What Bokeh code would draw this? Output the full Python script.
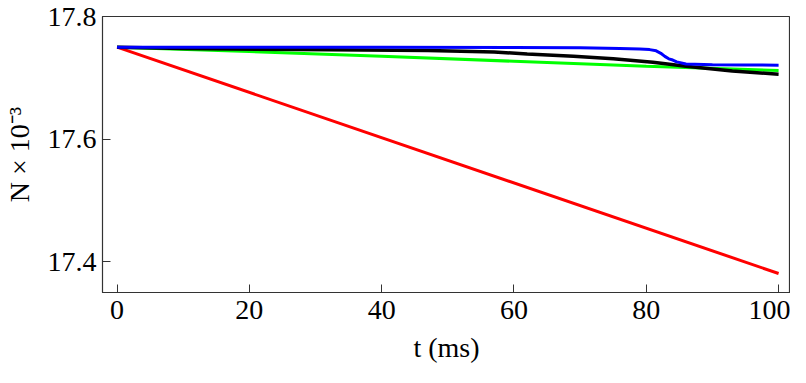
from bokeh.plotting import figure
from bokeh.models import FixedTicker, Range1d
from bokeh.embed import file_html
from bokeh.resources import INLINE

# Data (t in ms, N x 10^-3)
t_red = [0, 100]
n_red = [17.750, 17.381]

t_green = [0, 20, 40, 60, 80, 100]
n_green = [17.750, 17.743, 17.735, 17.727, 17.719, 17.712]

t_black = [0, 10, 27, 47, 57, 62, 69, 75, 81, 86, 93, 100]
n_black = [17.750, 17.748, 17.746, 17.7445, 17.742, 17.739, 17.735, 17.731, 17.7255, 17.719, 17.711, 17.706]

t_blue = [0, 20, 40, 60, 70, 76, 79, 80.5, 81.5, 82.2, 82.8, 83.4, 84.0, 84.6, 86, 90, 95, 100]
n_blue = [17.750, 17.750, 17.7498, 17.7495, 17.749, 17.748, 17.747, 17.746, 17.744, 17.740,
          17.735, 17.731, 17.729, 17.726, 17.7225, 17.7215, 17.721, 17.7205]

x_ticks = [0, 20, 40, 60, 80, 100]
y_ticks = [17.4, 17.6, 17.8]

FONT = "Liberation Serif"

p = figure(width=790, height=380, output_backend="svg", toolbar_location=None,
           x_range=Range1d(-2.2, 101.8), y_range=Range1d(17.35, 17.8),
           min_border_left=96, min_border_right=0, min_border_top=24, min_border_bottom=80,
           x_axis_label="t (ms)", y_axis_label="N × 10⁻³")
# use the page's top margin so the top tick label is not cut by the canvas edge
p.styles = {"margin-top": "-8px"}

p.grid.visible = False
p.outline_line_color = "#333333"
p.outline_line_width = 1.2

for ax in (p.xaxis[0], p.yaxis[0]):
    ax.major_label_text_font = FONT
    ax.major_label_text_font_size = "28px"
    ax.major_label_text_color = "black"
    ax.axis_label_text_font = FONT
    ax.axis_label_text_font_size = "28px"
    ax.axis_label_text_font_style = "normal"
    ax.axis_label_text_color = "black"
    ax.major_tick_in = 8
    ax.major_tick_out = 0
    ax.minor_tick_in = 0
    ax.minor_tick_out = 0
    ax.axis_line_color = "#333333"
    ax.major_tick_line_color = "#333333"

p.xaxis[0].ticker = FixedTicker(ticks=x_ticks)
p.yaxis[0].ticker = FixedTicker(ticks=y_ticks)
p.xaxis[0].major_label_standoff = 8
p.xaxis[0].axis_label_standoff = 10
p.yaxis[0].major_label_standoff = 6
p.yaxis[0].axis_label_standoff = 10

p.line(t_red, n_red, line_color="#ff0000", line_width=3)
p.line(t_green, n_green, line_color="#00ff00", line_width=3)
p.line(t_black, n_black, line_color="#000000", line_width=3.5)
p.line(t_blue, n_blue, line_color="#0000ff", line_width=3)

open("out.html", "w").write(file_html(p, INLINE))
